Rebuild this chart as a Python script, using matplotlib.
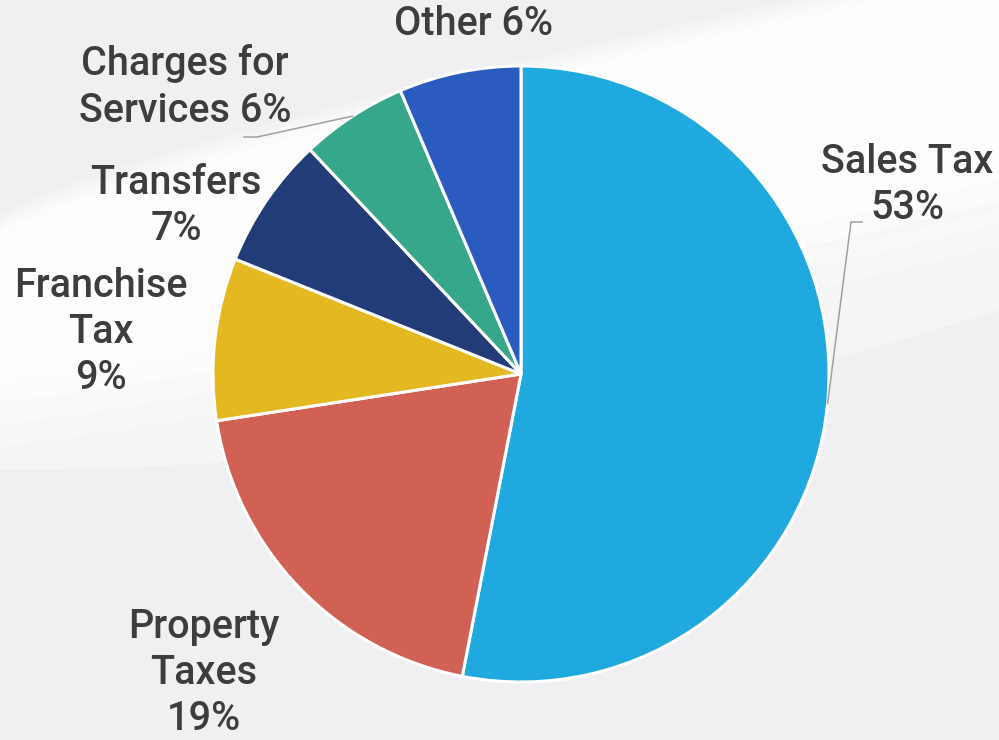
import numpy as np
import matplotlib
matplotlib.use("Agg")
import matplotlib.pyplot as plt

# revenue sources (share of total)
categories = ["Sales Tax", "Property Taxes", "Franchise Tax", "Transfers",
              "Charges for Services", "Other"]
shares = [53.0, 19.5, 8.5, 6.9, 5.6, 6.4]
label_texts = ["Sales Tax\n53%", "Property\nTaxes\n19%", "Franchise\nTax\n9%",
               "Transfers\n7%", "Charges for\nServices 6%", "Other 6%"]
colors = ["#20A9DE", "#D16055", "#E4B820", "#223C78", "#37A78B", "#2B5BBF"]

# label centres in pixels (layout only)
label_pos = [(907, 185), (204, 673), (101, 332), (176, 206), (185, 87), (473, 24)]

W, H = 999, 740
CX, CY, R = 521, 374, 308

plt.rcParams['font.family'] = ['Roboto', 'DejaVu Sans']

fig = plt.figure(figsize=(W / 100, H / 100), dpi=100)
fig.patch.set_facecolor("#F0F0F2")

# soft background swoosh
bg = fig.add_axes([0, 0, 1, 1])
bg.set_xlim(0, W)
bg.set_ylim(H, 0)
bg.axis("off")
xs = np.linspace(0, W, 200)
upper = 235 - 260 * (xs / W) ** 0.8
lower = 380 - 200 * (xs / W) ** 1.2
for k, a in enumerate([0.25, 0.35, 0.5, 0.7]):
    grow = (3 - k) * 22
    bg.fill_between(xs, upper - grow * 0.3, lower + grow, color="white",
                    alpha=a, lw=0)
# second, fainter swoosh on the right
upper2 = 330 - 120 * (xs / W) ** 2
lower2 = 470 - 160 * (xs / W) ** 2
bg.fill_between(xs, upper2, lower2, color="white", alpha=0.35, lw=0)

ax = fig.add_axes([(CX - R) / W, (H - CY - R) / H, 2 * R / W, 2 * R / H])
ax.set_xlim(-1, 1)
ax.set_ylim(-1, 1)
ax.axis("off")

wedges, _ = ax.pie(shares, colors=colors, startangle=90, counterclock=False,
                   radius=1, center=(0, 0), frame=False,
                   wedgeprops=dict(edgecolor="white", linewidth=2.2))
ax.set_xlim(-1, 1)
ax.set_ylim(-1, 1)


def to_data(px, py):
    return (px - CX) / R, (CY - py) / R


for i, txt in enumerate(label_texts):
    x, y = to_data(*label_pos[i])
    ax.text(x, y, txt, ha="center", va="center", fontsize=28.5,
            fontweight="medium", color="#3D3D3D", linespacing=1.28,
            clip_on=False)

# leader lines for the two labels that sit away from their slices
for i, elbow in [(0, [(851, 222), (862, 222)]), (4, [(257, 137), (244, 137)])]:
    w = wedges[i]
    mid = np.deg2rad((w.theta1 + w.theta2) / 2)
    pts = [(np.cos(mid), np.sin(mid))] + [to_data(*p) for p in elbow]
    ax.plot([p[0] for p in pts], [p[1] for p in pts], color="#A0A0A0",
            lw=1.1, clip_on=False)

fig.savefig("out.png", dpi=100, facecolor=fig.get_facecolor())
